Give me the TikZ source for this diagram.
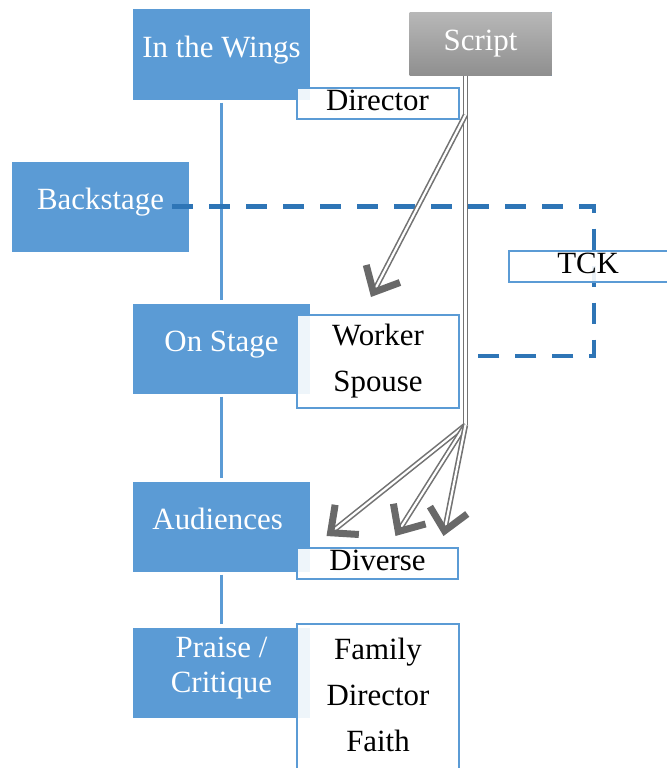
\documentclass[tikz,border=0pt]{standalone}
\usepackage{fontspec}
\setmainfont{Liberation Serif}
\definecolor{stageblue}{RGB}{91,155,213}
\definecolor{dashblue}{RGB}{46,117,182}
\definecolor{scriptgray}{RGB}{115,115,115}
\definecolor{tipgray}{RGB}{105,105,105}
\usetikzlibrary{shapes,arrows.meta,positioning,calc}

\tikzset{
  stagebox/.style={fill=stageblue, text=white, minimum width=177bp, minimum height=90bp,
    inner xsep=2bp, inner ysep=0bp, align=center, font=\fontsize{31}{35}\selectfont},
  notebox/.style={draw=stageblue, line width=2bp, fill=white, fill opacity=0.9, text opacity=1,
    minimum width=162bp, minimum height=31bp, inner xsep=2bp, inner ysep=0bp,
    align=center, font=\fontsize{31}{46}\selectfont},
  scriptline/.style={draw=scriptgray, line width=1.6bp, double=white, double distance=2.2bp},
  scriptarrow/.style={scriptline, -{Straight Barb[length=21bp, width=38bp, line width=7bp, color=tipgray]}},
  dashline/.style={draw=dashblue, line width=4.5bp, dash pattern=on 21bp off 16bp},
  linkline/.style={draw=stageblue, line width=2.5bp, shorten <=3bp, shorten >=3bp}
}

\begin{document}
\begin{tikzpicture}[x=1bp, y=-1bp]
    \useasboundingbox (0,0) rectangle (667,768);
    \foreach \name/\x/\y/\txt in {
        wings/221.5/54.5/In the Wings,
        back/100.5/206.5/Backstage,
        stage/221.5/348.5/On Stage,
        aud/221.5/526.5/Audiences
    } {
        \node[stagebox, text height=21bp, text depth=15bp] (\name) at (\x,\y) {\txt};
    }
    \node[stagebox, text height=56bp, text depth=16bp] (praise) at (221.5,672.5) {Praise /\\Critique};
    \node[stagebox, top color=black!28, bottom color=black!44, minimum width=142bp, minimum height=63bp]
        (script) at (480.5,44) {Script};

    \draw[linkline] (wings.south) -- (stage.north);
    \draw[linkline] (stage.south) -- (aud.north);
    \draw[linkline] (aud.south) -- (praise.north);

    \coordinate (dashcorner) at (594,356);
    \coordinate (dashend) at (476,356);
    \draw[dashline] ([xshift=-17bp]back.east) -| (dashcorner) -- (dashend);

    \foreach \name/\x/\y/\w/\txt in {
        director/377.5/103/162/Director,
        diverse/377.5/563.5/161/Diverse,
        tck/592/266/166/TCK
    } {
        \node[notebox, minimum width=\w bp, text height=20bp, text depth=6bp] (\name) at (\x,\y) {\txt};
    }
    \node[notebox, minimum height=93bp, text height=67bp, text depth=8bp] (worker) at (378,361.5) {Worker\\Spouse};
    \node[notebox, anchor=north, inner ysep=14bp, text height=113bp, text depth=150bp]
        (family) at (378,623) {Family\\Director\\Faith};

    \coordinate (split) at (465.5,115);
    \coordinate (fork) at (465.5,425);
    \draw[scriptline] (script.south -| fork) -- (fork);
    \draw[scriptarrow] (split) -- ([shift={(-7,-17)}]worker.north);
    \foreach \dx in {-51,18,66} {
        \draw[scriptarrow] (fork) -- ([shift={(\dx,-11)}]diverse.north);
    }
\end{tikzpicture}
\end{document}
